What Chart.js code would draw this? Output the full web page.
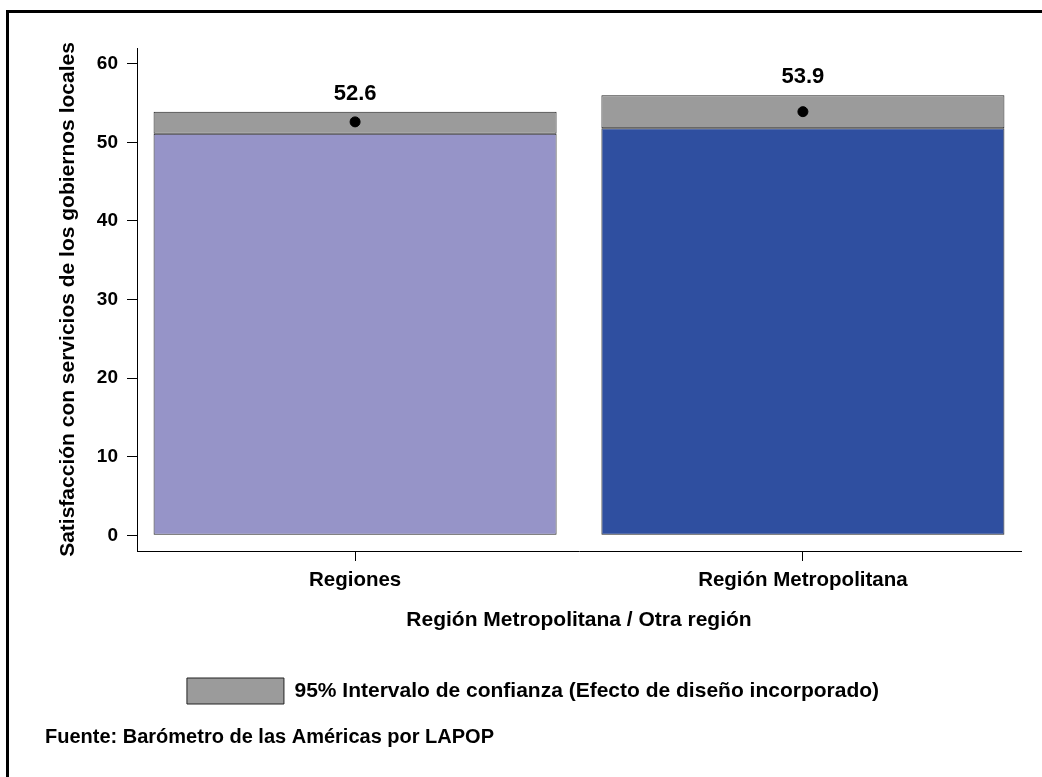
<!DOCTYPE html>
<html>
<head>
<meta charset="utf-8">
<script src="https://cdn.jsdelivr.net/npm/chart.js@4/dist/chart.umd.min.js"></script>
<style>
  html, body { margin: 0; padding: 0; background: #fff; overflow: hidden; }
  #wrap { position: relative; width: 1042px; height: 777px; }
  #frame {
    position: absolute; left: 6px; top: 10px; width: 1100px; height: 900px;
    border: 3px solid #000; pointer-events: none;
  }
  canvas { position: absolute; left: 0; top: 0; }
</style>
</head>
<body>
<div id="wrap">
  <canvas id="chart" width="1042" height="777"></canvas>
  <div id="frame"></div>
</div>
<script>
// data
const categories = ["Regiones", "Región Metropolitana"];
const means = [52.6, 53.9];
const ci_low = [51.1, 51.8];
const ci_high = [53.9, 56.0];
const y_ticks = [0, 10, 20, 30, 40, 50, 60];

const bar_colors = ["#9694c8", "#2f4fa0"];
const ci_color = "#9b9b9b";
const edge_color = "#222222";
const font_family = "'Liberation Sans', Arial, sans-serif";

Chart.defaults.font.family = font_family;
Chart.defaults.font.weight = "bold";
Chart.defaults.color = "#000";

// mean value written above each confidence interval
const value_labels = {
  id: "value_labels",
  afterDatasetsDraw(chart) {
    const ctx = chart.ctx;
    const meta = chart.getDatasetMeta(1);
    ctx.save();
    ctx.font = "bold 22px " + font_family;
    ctx.fillStyle = "#000";
    ctx.textAlign = "center";
    ctx.textBaseline = "middle";
    meta.data.forEach(function (el, i) {
      ctx.fillText(means[i].toFixed(1), el.x, el.y - 18);
    });
    ctx.restore();
  },
};

const ctx = document.getElementById("chart").getContext("2d");
new Chart(ctx, {
  data: {
    datasets: [
      {
        type: "bar",
        label: "Media",
        data: categories.map((c, i) => ({ x: i, y: [0, ci_low[i]] })),
        backgroundColor: bar_colors,
        borderColor: edge_color,
        borderWidth: 1,
        borderSkipped: false,
        grouped: false,
        barPercentage: 0.9,
        categoryPercentage: 1,
        order: 2,
      },
      {
        type: "bar",
        label: "95% Intervalo de confianza (Efecto de diseño incorporado)",
        data: categories.map((c, i) => ({ x: i, y: [ci_low[i], ci_high[i]] })),
        backgroundColor: ci_color,
        borderColor: edge_color,
        borderWidth: 1,
        borderSkipped: false,
        grouped: false,
        barPercentage: 0.9,
        categoryPercentage: 1,
        order: 1,
      },
      {
        type: "line",
        label: "mean",
        data: categories.map((c, i) => ({ x: i, y: means[i] })),
        showLine: false,
        pointRadius: 5,
        pointBackgroundColor: "#000",
        pointBorderColor: "#000",
        order: 0,
      },
    ],
  },
  options: {
    responsive: false,
    animation: false,
    devicePixelRatio: 1,
    layout: {
      padding: { left: 45, top: 48, right: 21, bottom: 0 },
    },
    plugins: {
      tooltip: { enabled: false },
      legend: {
        display: true,
        position: "bottom",
        labels: {
          filter: (item) => item.datasetIndex === 1,
          boxWidth: 97,
          boxHeight: 26,
          padding: 10,
          font: { size: 21, weight: "bold" },
          color: "#000",
        },
      },
      title: {
        display: true,
        position: "bottom",
        align: "start",
        text: "Fuente: Barómetro de las Américas por LAPOP",
        font: { size: 20, weight: "bold" },
        color: "#000",
        padding: { top: 11, bottom: 28 },
      },
    },
    scales: {
      x: {
        type: "linear",
        offset: false,
        min: -0.487,
        max: 1.487,
        afterFit: (s) => { s.height = 117; },
        afterBuildTicks: (s) => { s.ticks = categories.map((c, i) => ({ value: i })); },
        border: { display: true, color: "#000", width: 1 },
        grid: {
          display: true,
          offset: false,
          drawOnChartArea: false,
          drawTicks: true,
          tickLength: 10,
          color: "#000",
        },
        ticks: {
          padding: 7,
          font: { size: 20.5, weight: "bold" },
          color: "#000",
          callback: (v) => categories[v],
        },
        title: {
          display: true,
          text: "Región Metropolitana / Otra región",
          font: { size: 21, weight: "bold" },
          color: "#000",
          padding: { top: 0, bottom: 35.4 },
        },
      },
      y: {
        type: "linear",
        min: -2,
        max: 62,
        afterFit: (s) => { s.width = 92; },
        afterBuildTicks: (s) => { s.ticks = y_ticks.map((v) => ({ value: v })); },
        border: { display: true, color: "#000", width: 1 },
        grid: {
          display: true,
          drawOnChartArea: false,
          drawTicks: true,
          tickLength: 10,
          color: "#000",
        },
        ticks: {
          padding: 9,
          font: { size: 19, weight: "bold" },
          color: "#000",
        },
        title: {
          display: true,
          text: "Satisfacción con servicios de los gobiernos locales",
          font: { size: 21, weight: "bold" },
          color: "#000",
          padding: { top: 10.4, bottom: 0 },
        },
      },
    },
  },
  plugins: [value_labels],
});
</script>
</body>
</html>
